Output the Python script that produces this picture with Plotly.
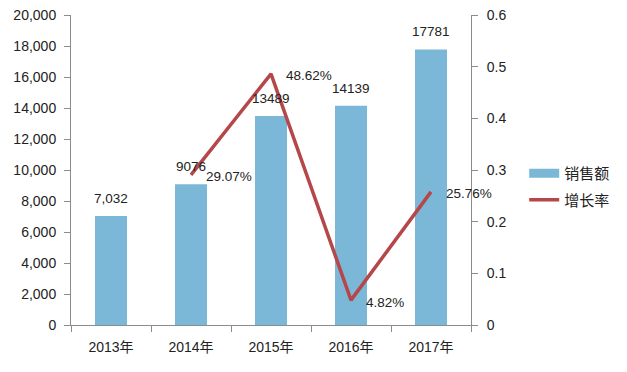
import plotly.graph_objects as go

categories = ["2013年", "2014年", "2015年", "2016年", "2017年"]
sales = [7032, 9076, 13489, 14139, 17781]
sales_labels = ["7,032", "9076", "13489", "14139", "17781"]
growth_cats = ["2014年", "2015年", "2016年", "2017年"]
growth = [0.2907, 0.4862, 0.0482, 0.2576]
growth_labels = ["29.07%", "48.62%", "4.82%", "25.76%"]

font_family = "Liberation Sans, Arial, Noto Sans CJK SC, sans-serif"
axis_col = "#8c8c8c"
bar_col = "#7bb8d7"
line_col = "#b5474b"

fig = go.Figure()
fig.add_trace(go.Bar(
    x=categories, y=sales, name="销售额",
    marker=dict(color=bar_col, line=dict(width=0)),
    width=0.4, showlegend=False,
))
# legend entry for the bars, drawn as a wide swatch (no visible data)
fig.add_trace(go.Scatter(
    x=categories[:1], y=[None], name="销售额", mode="lines",
    line=dict(color=bar_col, width=9), legendgroup="a",
))
fig.add_trace(go.Scatter(
    x=growth_cats, y=growth, name="增长率", yaxis="y2",
    mode="lines", line=dict(color=line_col, width=3.5),
    cliponaxis=False, legendgroup="b",
))

for c, v, t in zip(categories, sales, sales_labels):
    fig.add_annotation(
        x=c, y=v, xref="x", yref="y", text=t, showarrow=False,
        xanchor="center", yanchor="bottom", yshift=8,
        font=dict(size=13.5, color="#222", family=font_family),
    )

for c, v, t in zip(growth_cats, growth, growth_labels):
    fig.add_annotation(
        x=c, y=v, xref="x", yref="y2", text=t, showarrow=False,
        xanchor="left", yanchor="middle", xshift=13, yshift=-2,
        font=dict(size=13.5, color="#222", family=font_family),
    )

fig.update_layout(
    width=627, height=372,
    margin=dict(l=71, r=150, t=15, b=47),
    paper_bgcolor="white", plot_bgcolor="white",
    font=dict(family=font_family, size=14, color="#222"),
    xaxis=dict(
        type="category", categoryorder="array", categoryarray=categories,
        range=[-0.5, len(categories) - 0.5],
        showline=True, linecolor=axis_col, linewidth=1,
        ticks="outside", ticklen=6, tickcolor=axis_col, tickson="boundaries",
        showgrid=False, tickfont=dict(size=14), automargin=False,
        ticklabelstandoff=9,
    ),
    yaxis=dict(
        range=[0, 20000], dtick=2000, tickformat=",d",
        showline=True, linecolor=axis_col, linewidth=1,
        ticks="outside", ticklen=6, tickcolor=axis_col,
        showgrid=False, zeroline=False, tickfont=dict(size=14),
        automargin=False, ticklabelstandoff=5,
    ),
    yaxis2=dict(
        range=[0, 0.6], dtick=0.1, overlaying="y", side="right",
        showline=True, linecolor=axis_col, linewidth=1,
        ticks="outside", ticklen=6, tickcolor=axis_col,
        showgrid=False, zeroline=False, tickfont=dict(size=14),
        tickformat=".1~f", automargin=False, ticklabelstandoff=6,
    ),
    legend=dict(x=1.133, y=0.447, yanchor="middle", xanchor="left",
                font=dict(size=15), bgcolor="rgba(0,0,0,0)",
                itemwidth=30, traceorder="grouped", tracegroupgap=4),
    showlegend=True,
)

fig.write_html("out.html", config={"displayModeBar": False},
               post_script="document.body.style.margin='0';document.body.style.padding='0';")
